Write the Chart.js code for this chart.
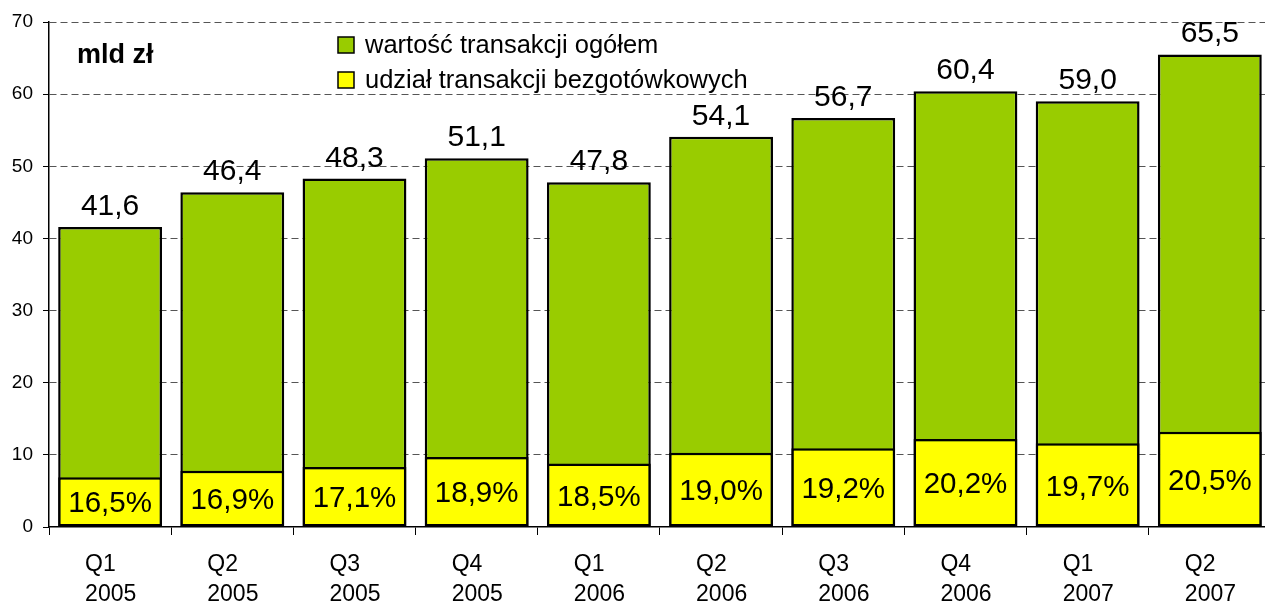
<!DOCTYPE html>
<html><head><meta charset="utf-8">
<script src="https://cdn.jsdelivr.net/npm/chart.js@4/dist/chart.umd.min.js"></script>
<style>
html,body{margin:0;padding:0;overflow:hidden;background:#fff;width:1265px;height:603px}
#wrap{position:absolute;left:0;top:0;width:1276px;height:603px}
</style>
</head><body><div id="wrap"><canvas id="c" width="1276" height="603"></canvas></div>
<script>
const categories = [["Q1","2005"],["Q2","2005"],["Q3","2005"],["Q4","2005"],["Q1","2006"],["Q2","2006"],["Q3","2006"],["Q4","2006"],["Q1","2007"],["Q2","2007"]];
const totalValues = [41.6, 46.4, 48.3, 51.1, 47.8, 54.1, 56.7, 60.4, 59.0, 65.5];
const cashlessValues = [6.9, 7.8, 8.3, 9.7, 8.8, 10.3, 10.9, 12.2, 11.6, 13.2];
const cashlessShareLabels = ["16,5%","16,9%","17,1%","18,9%","18,5%","19,0%","19,2%","20,2%","19,7%","20,5%"];
const seriesNames = ["wartość transakcji ogółem", "udział transakcji bezgotówkowych"];
const unitLabel = "mld zł";
const yMin = 0, yMax = 70, yStep = 10;

const FONT = "'Liberation Sans', Arial, sans-serif";
const GREEN = '#99CC00', YELLOW = '#FFFF00';

const labelsPlugin = {
  id: 'labelsPlugin',
  afterDatasetsDraw(chart) {
    const ctx = chart.ctx;
    const m0 = chart.getDatasetMeta(0).data;
    const m1 = chart.getDatasetMeta(1).data;
    ctx.save();
    ctx.fillStyle = '#000';
    ctx.textAlign = 'center';
    ctx.textBaseline = 'alphabetic';
    ctx.font = '30px ' + FONT;
    m0.forEach((bar, i) => {
      ctx.fillText(totalValues[i].toFixed(1).replace('.', ','), bar.x, bar.y - 12);
    });
    ctx.font = '29.5px ' + FONT;
    m1.forEach((bar, i) => {
      const cy = (bar.y + bar.base) / 2;
      ctx.fillText(cashlessShareLabels[i], bar.x, cy + 0.36 * 29.5);
    });
    // unit label
    ctx.textAlign = 'left';
    ctx.font = 'bold 27px ' + FONT;
    ctx.fillText(unitLabel, 77, 63);
    // legend
    const colors = [GREEN, YELLOW];
    ctx.font = '25.5px ' + FONT;
    seriesNames.forEach((name, i) => {
      const by = 37 + i * 35;
      ctx.fillStyle = colors[i];
      ctx.fillRect(338, by, 16, 16);
      ctx.strokeStyle = '#000';
      ctx.lineWidth = 1.5;
      ctx.strokeRect(338, by, 16, 16);
      ctx.fillStyle = '#000';
      ctx.fillText(name, 365, by + 16);
    });
    ctx.restore();
  }
};

new Chart(document.getElementById('c'), {
  type: 'bar',
  data: {
    labels: categories,
    datasets: [
      { label: seriesNames[0], data: totalValues, backgroundColor: GREEN, borderColor: '#000', borderWidth: 2.5, borderSkipped: false, order: 1, barPercentage: 0.85, categoryPercentage: 1 },
      { label: seriesNames[1], data: cashlessValues, backgroundColor: YELLOW, borderColor: '#000', borderWidth: 2.5, borderSkipped: false, order: 0, barPercentage: 0.85, categoryPercentage: 1 }
    ]
  },
  options: {
    responsive: false,
    animation: false,
    devicePixelRatio: 1,
    layout: { padding: { top: 22, left: 0, right: 0, bottom: 0 } },
    plugins: { legend: { display: false }, tooltip: { enabled: false } },
    scales: {
      x: {
        stacked: true,
        grid: { offset: true, drawOnChartArea: false, tickLength: 8, color: '#000', lineWidth: 1 },
        border: { color: '#000', width: 1.5 },
        ticks: { font: { family: FONT, size: 23, lineHeight: 1.3 }, color: '#000', align: 'start', labelOffset: -25, padding: 15, maxRotation: 0, autoSkip: false },
        afterFit(s) { s.height = 76; }
      },
      y: {
        stacked: false,
        min: yMin, max: yMax,
        ticks: { stepSize: yStep, font: { family: FONT, size: 19 }, color: '#000', padding: 10 },
        grid: { color: c => (c.tick && c.tick.value === 0) ? 'rgba(0,0,0,0)' : '#555', tickColor: '#000', tickLength: 6, tickBorderDash: [], lineWidth: 1 },
        border: { dash: [7, 4], color: '#000', width: 1.5 },
        afterFit(s) { s.width = 49; }
      }
    }
  },
  plugins: [labelsPlugin]
});
</script>
</body></html>
